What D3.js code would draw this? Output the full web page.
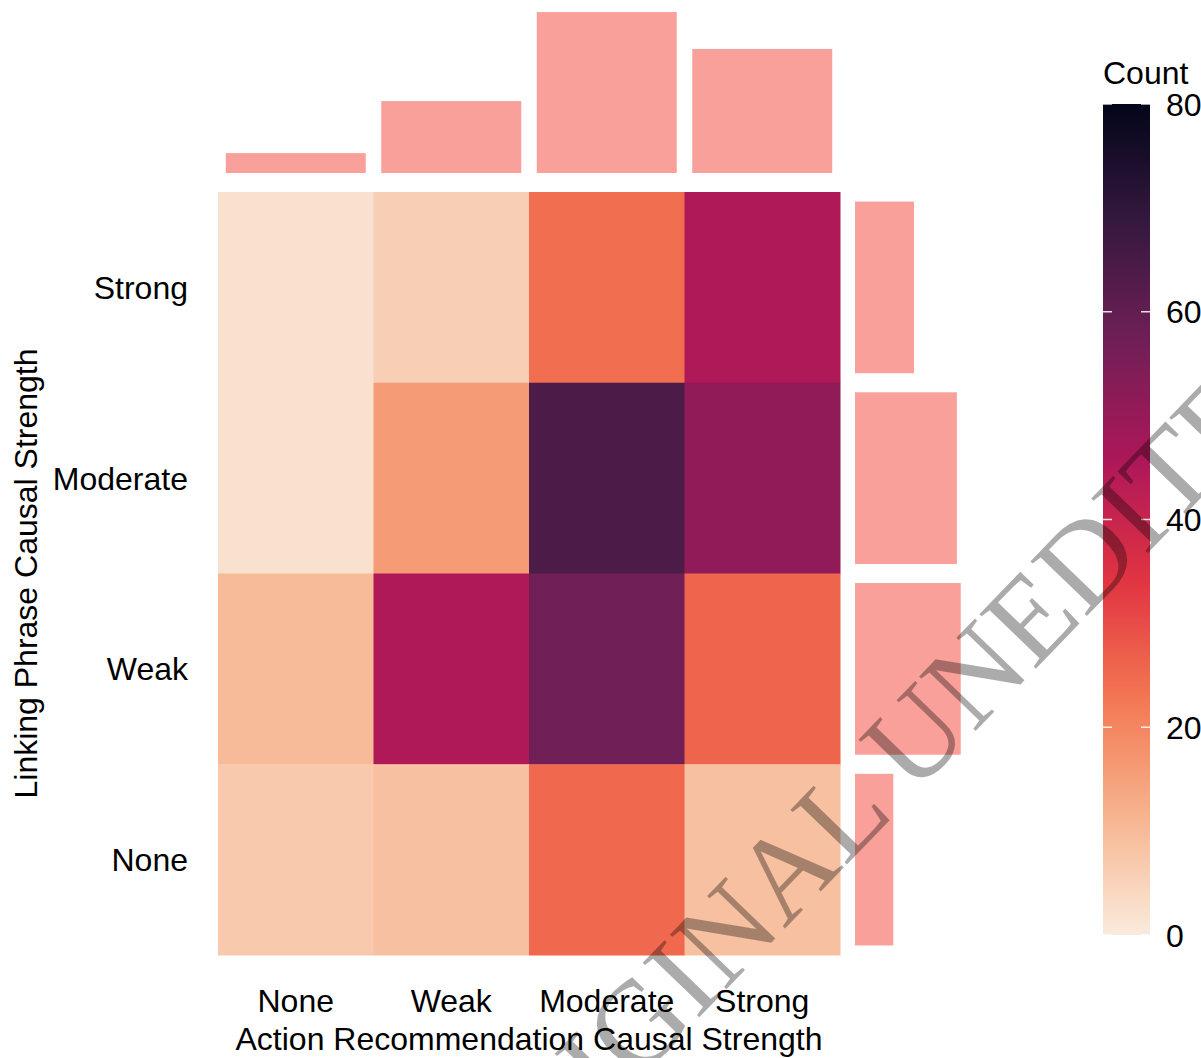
<!DOCTYPE html>
<html>
<head>
<meta charset="utf-8">
<script src="https://cdn.jsdelivr.net/npm/d3@7"></script>
<style>
  body { margin: 0; background: #fff; }
  svg text { font-family: "Liberation Sans", Arial, sans-serif; fill: #000; }
</style>
</head>
<body>
<svg id="chart" width="1201" height="1058"></svg>
<script>
// -------- data --------
const actionLevels = ["None", "Weak", "Moderate", "Strong"];      // x axis
const linkLevels = ["Strong", "Moderate", "Weak", "None"];        // y axis, top to bottom
// counts per linking phrase row (columns follow actionLevels)
const rowStrong = [2, 6, 24, 45];
const rowModerate = [2, 16, 64, 51];
const rowWeak = [10, 45, 57, 26];
const rowNone = [7, 9, 25, 9];
const legendTicks = [0, 20, 40, 60, 80];

const rows = { Strong: rowStrong, Moderate: rowModerate, Weak: rowWeak, None: rowNone };

// seaborn "rocket" stops, used reversed (light = low count)
const rocketStops = ["#03051a", "#35193e", "#701f57", "#ad1759", "#e13342", "#f37651", "#f6b48f", "#faebdd"];

const svg = d3.select("#chart");
const fontSize = 32;

// cells
const cells = [];
linkLevels.forEach(function (l) {
  rows[l].forEach(function (v, i) {
    cells.push({ link: l, action: actionLevels[i], value: v });
  });
});
const colSums = actionLevels.map(function (a, i) {
  return d3.sum(linkLevels, function (l) { return rows[l][i]; });
});
const rowSums = linkLevels.map(function (l) { return d3.sum(rows[l]); });

// scales
const x = d3.scaleBand().domain(actionLevels).range([218, 840]);
const y = d3.scaleBand().domain(linkLevels).range([192, 955]);

const rocket = d3
  .scaleLinear()
  .domain(rocketStops.map(function (d, i) { return i / (rocketStops.length - 1); }))
  .range(rocketStops)
  .interpolate(d3.interpolateRgb);
const colour = function (v) { return rocket(1 - v / 80); };

// heatmap
svg
  .append("g")
  .selectAll("rect")
  .data(cells)
  .enter()
  .append("rect")
  .attr("x", function (d) { return x(d.action); })
  .attr("y", function (d) { return y(d.link); })
  .attr("width", x.bandwidth() + 0.5)
  .attr("height", y.bandwidth() + 0.5)
  .attr("fill", function (d) { return colour(d.value); });

// top marginal bars
const barFill = "#f9a09a";
const yTop = d3.scaleLinear().domain([0, d3.max(colSums) * 1.05]).range([173, 4]);
svg
  .append("g")
  .selectAll("rect")
  .data(colSums)
  .enter()
  .append("rect")
  .attr("x", function (d, i) { return x(actionLevels[i]) + x.bandwidth() * 0.05; })
  .attr("width", x.bandwidth() * 0.9)
  .attr("y", function (d) { return yTop(d); })
  .attr("height", function (d) { return yTop(0) - yTop(d); })
  .attr("fill", barFill);

// right marginal bars
const xRight = d3.scaleLinear().domain([0, d3.max(rowSums) * 1.05]).range([855, 966]);
svg
  .append("g")
  .selectAll("rect")
  .data(rowSums)
  .enter()
  .append("rect")
  .attr("y", function (d, i) { return y(linkLevels[i]) + y.bandwidth() * 0.05; })
  .attr("height", y.bandwidth() * 0.9)
  .attr("x", xRight(0))
  .attr("width", function (d) { return xRight(d) - xRight(0); })
  .attr("fill", barFill);

// axis labels
svg
  .append("g")
  .selectAll("text")
  .data(linkLevels)
  .enter()
  .append("text")
  .attr("x", 188)
  .attr("y", function (d) { return y(d) + y.bandwidth() / 2; })
  .attr("dy", "0.36em")
  .attr("text-anchor", "end")
  .style("font-size", fontSize + "px")
  .text(function (d) { return d; });

svg
  .append("g")
  .selectAll("text")
  .data(actionLevels)
  .enter()
  .append("text")
  .attr("x", function (d) { return x(d) + x.bandwidth() / 2; })
  .attr("y", 1012)
  .attr("text-anchor", "middle")
  .style("font-size", fontSize + "px")
  .text(function (d) { return d; });

svg
  .append("text")
  .attr("x", (x.range()[0] + x.range()[1]) / 2)
  .attr("y", 1050)
  .attr("text-anchor", "middle")
  .style("font-size", fontSize + "px")
  .text("Action Recommendation Causal Strength");

svg
  .append("text")
  .attr("transform", "translate(37," + (y.range()[0] + y.range()[1]) / 2 + ") rotate(-90)")
  .attr("text-anchor", "middle")
  .style("font-size", fontSize + "px")
  .text("Linking Phrase Causal Strength");

// colour bar legend
const legY = d3.scaleLinear().domain([0, 80]).range([935, 104]);
const defs = svg.append("defs");
const grad = defs
  .append("linearGradient")
  .attr("id", "countGrad")
  .attr("x1", 0).attr("y1", 1).attr("x2", 0).attr("y2", 0);
d3.range(0, 81, 2).forEach(function (v) {
  grad.append("stop").attr("offset", v / 80).attr("stop-color", colour(v));
});
const legend = svg.append("g");
legend
  .append("rect")
  .attr("x", 1103)
  .attr("y", legY(80))
  .attr("width", 47)
  .attr("height", legY(0) - legY(80))
  .attr("fill", "url(#countGrad)");
legend
  .selectAll("line.l")
  .data(legendTicks)
  .enter()
  .append("line")
  .attr("x1", 1103).attr("x2", 1112)
  .attr("y1", function (d) { return legY(d); })
  .attr("y2", function (d) { return legY(d); })
  .attr("stroke", "#fff").attr("stroke-opacity", 0.85).attr("stroke-width", 1.5);
legend
  .selectAll("line.r")
  .data(legendTicks)
  .enter()
  .append("line")
  .attr("x1", 1141).attr("x2", 1150)
  .attr("y1", function (d) { return legY(d); })
  .attr("y2", function (d) { return legY(d); })
  .attr("stroke", "#fff").attr("stroke-opacity", 0.85).attr("stroke-width", 1.5);
legend
  .selectAll("text")
  .data(legendTicks)
  .enter()
  .append("text")
  .attr("x", 1166)
  .attr("y", function (d) { return legY(d); })
  .attr("dy", "0.36em")
  .style("font-size", fontSize + "px")
  .text(function (d) { return d; });
legend
  .append("text")
  .attr("x", 1103)
  .attr("y", 84)
  .style("font-size", fontSize + "px")
  .text("Count");

// watermark
svg
  .append("text")
  .attr("transform", "translate(885,768) rotate(-46)")
  .attr("text-anchor", "middle")
  .attr("dy", "0.33em")
  .style("font-family", "'Liberation Serif', 'Times New Roman', serif")
  .style("font-size", "120px")
  .style("fill", "#000")
  .style("fill-opacity", 0.33)
  .text("ORIGINAL UNEDITED");
</script>
</body>
</html>
